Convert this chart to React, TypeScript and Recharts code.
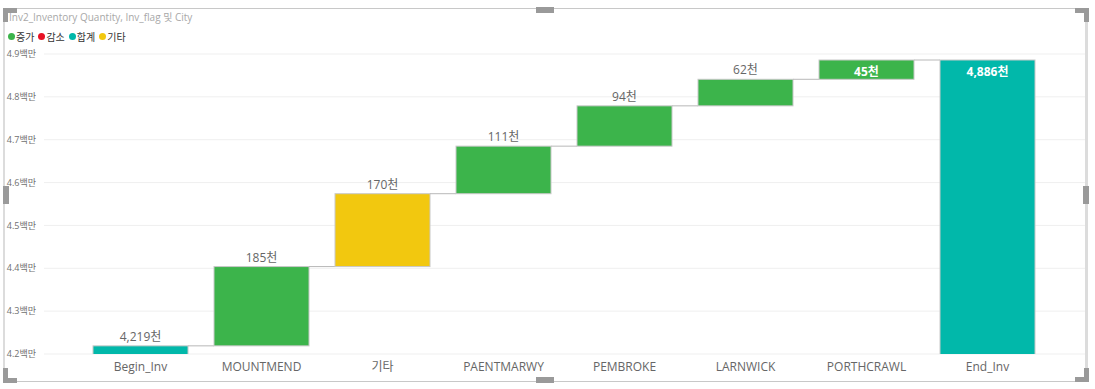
import React from 'react';
import { BarChart, Bar, XAxis, YAxis, CartesianGrid, LabelList, Cell } from 'recharts';

const cities = ['Begin_Inv', 'MOUNTMEND', '기타', 'PAENTMARWY', 'PEMBROKE', 'LARNWICK', 'PORTHCRAWL', 'End_Inv'];
// thousand units; totals carry the running total, others the change
const amounts = [4219, 185, 170, 111, 94, 62, 45, 4886];
const kinds = ['total', 'up', 'other', 'up', 'up', 'up', 'up', 'total'];
const yTicks = [4200000, 4300000, 4400000, 4500000, 4600000, 4700000, 4800000, 4900000];

const legendItems = [
  { label: '증가', color: '#3CB44B' },
  { label: '감소', color: '#E81123' },
  { label: '합계', color: '#01B8AA' },
  { label: '기타', color: '#F2C80F' },
];
const kindColor: Record<string, string> = { up: '#3CB44B', down: '#E81123', total: '#01B8AA', other: '#F2C80F' };

// recharts applies the category gap on each side of the bar
const CAT_GAP = 0.1075;
const FONT = "'Segoe UI', 'Open Sans', 'Noto Sans CJK KR', sans-serif";

let running = 0;
const data = cities.map((city, i) => {
  const kind = kinds[i];
  let low: number;
  let high: number;
  if (kind === 'total') {
    low = 0;
    high = amounts[i] * 1000;
    running = high;
  } else {
    low = running;
    high = running + amounts[i] * 1000;
    running = high;
  }
  return { city, kind, amount: amounts[i], range: [low, high], last: i === cities.length - 1 };
});

const WaterfallShape = (props: any) => {
  const { x, y, width, height, payload, fill } = props;
  const gap = (width * 2 * CAT_GAP) / (1 - 2 * CAT_GAP);
  return (
    <g>
      <rect x={x} y={y} width={width} height={height} fill={fill} stroke="#c8c8c8" strokeWidth={1} />
      {!payload.last && (
        <line x1={x + width} x2={x + width + gap} y1={y} y2={y} stroke="#b8b8b8" strokeWidth={1} />
      )}
    </g>
  );
};

const ValueLabel = (props: any) => {
  const { x, y, width, index } = props;
  const d = data[index];
  const text = d.amount.toLocaleString('en-US') + '천';
  const inside = y < 75;
  return (
    <text
      x={x + width / 2}
      y={inside ? y + 16 : y - 5}
      textAnchor="middle"
      fontSize={12}
      fontWeight={inside ? 700 : 400}
      fill={inside ? '#ffffff' : '#666666'}
      fontFamily={FONT}
    >
      {text}
    </text>
  );
};

const Handle = ({ style }: { style: React.CSSProperties }) => (
  <div style={{ position: 'absolute', background: '#9a9a9a', ...style }} />
);

export default function App() {
  return (
    <div style={{ position: 'fixed', left: 0, top: 0, width: 1095, height: 389, background: '#fff', fontFamily: FONT, overflow: 'hidden' }}>
      <div style={{ position: 'absolute', left: 9, top: 9, fontSize: 10, color: '#a8a8a8', whiteSpace: 'nowrap' }}>
        Inv2_Inventory Quantity, Inv_flag 및 City
      </div>
      <div style={{ position: 'absolute', left: 8, top: 29, display: 'flex', fontSize: 10, color: '#333', whiteSpace: 'nowrap' }}>
        {legendItems.map((it) => (
          <div key={it.label} style={{ display: 'flex', alignItems: 'center', marginRight: 4 }}>
            <span style={{ width: 7, height: 7, borderRadius: '50%', background: it.color, marginRight: 1, display: 'inline-block' }} />
            <span>{it.label}</span>
          </div>
        ))}
      </div>

      <div style={{ position: 'absolute', left: 0, top: 0 }}>
        <BarChart
          width={1095}
          height={389}
          data={data}
          margin={{ top: 54, right: 10, bottom: 5, left: 0 }}
          barCategoryGap={`${CAT_GAP * 100}%`}
        >
          <CartesianGrid vertical={false} stroke="#efefef" />
          <XAxis
            dataKey="city"
            axisLine={false}
            tickLine={false}
            padding={{ left: 36, right: 37 }}
            interval={0}
            tick={{ fontSize: 12, fill: '#666', fontFamily: FONT }}
          />
          <YAxis
            width={44}
            domain={[4200000, 4900000]}
            ticks={yTicks}
            allowDataOverflow
            axisLine={false}
            tickLine={false}
            tick={{ fontSize: 9, fill: '#707070', fontFamily: FONT }}
            tickFormatter={(v: number) => `${(v / 1000000).toFixed(1)}백만`}
          />
          <Bar dataKey="range" isAnimationActive={false} shape={WaterfallShape}>
            {data.map((d, i) => (
              <Cell key={`c-${i}`} fill={kindColor[d.kind]} />
            ))}
            <LabelList dataKey="amount" content={ValueLabel} />
          </Bar>
        </BarChart>
      </div>

      {/* visual frame with resize handles, drawn over the chart */}
      <div style={{ position: 'absolute', left: 0, top: 0, width: 1095, height: 389, pointerEvents: 'none' }}>
        <div style={{ position: 'absolute', left: 3, top: 8, width: 1084, height: 1, background: '#c8c8c8' }} />
        <div style={{ position: 'absolute', left: 3, top: 381, width: 1084, height: 1, background: '#c8c8c8' }} />
        <div style={{ position: 'absolute', left: 3, top: 8, width: 2, height: 374, background: '#dcdcdc' }} />
        <div style={{ position: 'absolute', left: 1085, top: 8, width: 3, height: 374, background: '#dcdcdc' }} />
        <Handle style={{ left: 3, top: 8, width: 14, height: 5 }} />
        <Handle style={{ left: 3, top: 8, width: 5, height: 14 }} />
        <Handle style={{ left: 1075, top: 8, width: 14, height: 5 }} />
        <Handle style={{ left: 1084, top: 8, width: 5, height: 14 }} />
        <Handle style={{ left: 3, top: 378, width: 14, height: 5 }} />
        <Handle style={{ left: 3, top: 368, width: 5, height: 14 }} />
        <Handle style={{ left: 1075, top: 377, width: 14, height: 5 }} />
        <Handle style={{ left: 1084, top: 368, width: 5, height: 14 }} />
        <Handle style={{ left: 536, top: 7, width: 18, height: 6 }} />
        <Handle style={{ left: 536, top: 377, width: 18, height: 6 }} />
        <Handle style={{ left: 3, top: 186, width: 6, height: 18 }} />
        <Handle style={{ left: 1083, top: 186, width: 6, height: 18 }} />
      </div>
    </div>
  );
}
